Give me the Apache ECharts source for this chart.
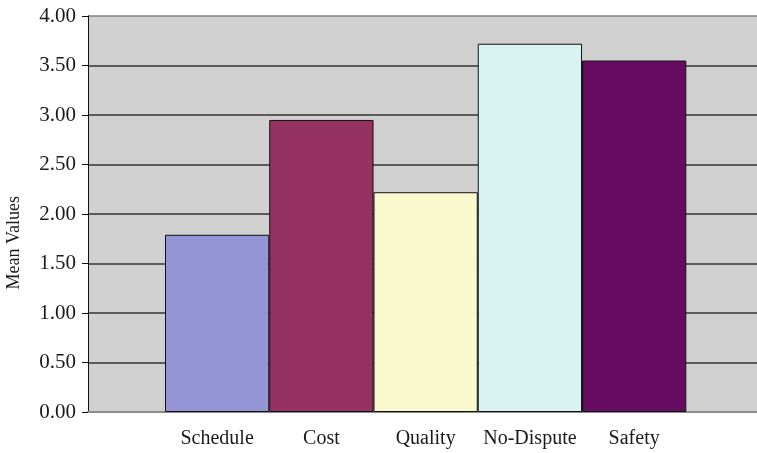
<!DOCTYPE html>
<html>
<head>
<meta charset="utf-8">
<script src="https://cdn.jsdelivr.net/npm/echarts@6/dist/echarts.min.js"></script>
<style>
  html, body { margin: 0; padding: 0; background: #ffffff; }
  #chart { width: 757px; height: 453px; }
</style>
</head>
<body>
<div id="chart"></div>
<script>
// Mean rating of each project performance criterion
const categories = ['Schedule', 'Cost', 'Quality', 'No-Dispute', 'Safety'];
const meanValues = [1.79, 2.95, 2.22, 3.72, 3.55];
const barColors = ['#9595d5', '#963262', '#faf8cd', '#d9f3f3', '#660a62'];
const yTickLabels = ['0.00', '0.50', '1.00', '1.50', '2.00', '2.50', '3.00', '3.50', '4.00'];
const yAxisTitle = 'Mean Values';

const FONT = '"Liberation Serif", "Times New Roman", serif';
const chart = echarts.init(document.getElementById('chart'), null, { renderer: 'canvas' });

const gridTop = 16, gridBottom = 41;

chart.setOption({
  animation: false,
  grid: [
    // frame with the grey plot background, value axis and gridlines
    { left: 88, right: 0, top: gridTop, bottom: gridBottom, show: true,
      backgroundColor: '#d0d0d0', borderWidth: 0 },
    // inner band holding the five adjoining bars
    { left: 165, right: 70.7, top: gridTop, bottom: gridBottom }
  ],
  graphic: [{
    type: 'text', left: 5, top: 196, rotation: Math.PI / 2,
    style: { text: yAxisTitle, fill: '#1a1a1a', font: '18px ' + FONT }
  }],
  xAxis: [
    { gridIndex: 0, type: 'category', data: [''],
      axisLine: { show: true, lineStyle: { color: '#8c8c8c', width: 2 } },
      axisTick: { show: false }, axisLabel: { show: false }, splitLine: { show: false } },
    { gridIndex: 1, type: 'category', data: categories,
      axisLine: { show: false }, axisTick: { show: false },
      axisLabel: { color: '#1a1a1a', fontFamily: FONT, fontSize: 20, margin: 17, interval: 0 } }
  ],
  yAxis: [
    { gridIndex: 0, type: 'value', min: 0, max: 4, interval: 0.5,
      axisLine: { show: true, lineStyle: { color: '#111', width: 1 } },
      axisTick: { show: true, length: 6, lineStyle: { color: '#111', width: 1 } },
      axisLabel: { color: '#1a1a1a', fontFamily: FONT, fontSize: 21, margin: 12,
        formatter: (v) => yTickLabels[Math.round(v / 0.5)] },
      splitLine: { show: true, lineStyle: { width: 1.5,
        color: ['#8c8c8c', '#333', '#333', '#333', '#333', '#333', '#333', '#333', '#808080'] } } },
    { gridIndex: 1, type: 'value', min: 0, max: 4, interval: 0.5, show: false,
      splitLine: { show: false } }
  ],
  series: [{
    type: 'bar',
    xAxisIndex: 1, yAxisIndex: 1,
    barCategoryGap: 0,
    data: meanValues.map((v, i) => ({
      value: v,
      itemStyle: { color: barColors[i], borderColor: '#111', borderWidth: 1 }
    }))
  }]
});
</script>
</body>
</html>
